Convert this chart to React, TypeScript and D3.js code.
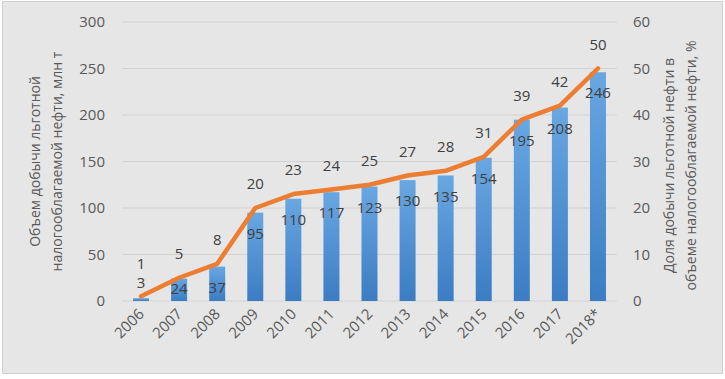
import React from "react";
import * as d3 from "d3";

const years = ["2006", "2007", "2008", "2009", "2010", "2011", "2012", "2013", "2014", "2015", "2016", "2017", "2018*"];
const volume = [3, 24, 37, 95, 110, 117, 123, 130, 135, 154, 195, 208, 246];
const share = [1, 5, 8, 20, 23, 24, 25, 27, 28, 31, 39, 42, 50];
const leftTicks = [0, 50, 100, 150, 200, 250, 300];
const rightTicks = [0, 10, 20, 30, 40, 50, 60];
const leftTitle = ["Объем добычи льготной", "налогооблагаемой нефти, млн т"];
const rightTitle = ["Доля добычи льготной нефти в", "объеме налогооблагаемой нефти, %"];

const W = 725, H = 379;
const m = { left: 122, right: 108, top: 22, bottom: 78 };
const FONT = "'Open Sans', sans-serif";

export default function App() {
  const x = d3.scaleBand().domain(years).range([m.left, W - m.right]).paddingInner(0.58).paddingOuter(0.29);
  const yL = d3.scaleLinear().domain([0, 300]).range([H - m.bottom, m.top]);
  const yR = d3.scaleLinear().domain([0, 60]).range([H - m.bottom, m.top]);
  const cx = (d: string) => (x(d) as number) + x.bandwidth() / 2;
  const line = d3.line<number>().x((_, i) => cx(years[i])).y((d) => yR(d)).curve(d3.curveLinear);
  const midY = (m.top + H - m.bottom) / 2;

  return (
    <svg width={W} height={H} style={{ position: "absolute", left: 0, top: 0 }} fontFamily={FONT}>
      <defs>
        <linearGradient id="barGrad" x1="0" y1="0" x2="0" y2="1">
          <stop offset="0%" stopColor="#69a7e2" />
          <stop offset="100%" stopColor="#3b7cc3" />
        </linearGradient>
      </defs>
      <rect x={0} y={0} width={W} height={H} fill="#ffffff" />
      <rect x={2.5} y={1.5} width={W - 5} height={H - 7} fill="#e6e6e6" stroke="#d0d0d0" />
      {leftTicks.map((t) => (
        <line key={"g" + t} x1={m.left} x2={W - m.right} y1={yL(t)} y2={yL(t)} stroke="#d2d2d2" strokeWidth={1} />
      ))}
      {leftTicks.map((t) => (
        <text key={"l" + t} x={105} y={yL(t)} dy="0.35em" textAnchor="end" fontSize={15} fill="#595959">{t}</text>
      ))}
      {rightTicks.map((t) => (
        <text key={"r" + t} x={633} y={yR(t)} dy="0.35em" textAnchor="start" fontSize={15} fill="#595959">{t}</text>
      ))}
      <text transform={`translate(40,${midY}) rotate(-90)`} textAnchor="middle" fontSize={14} fill="#595959">
        <tspan x={0} dy="0">{leftTitle[0]}</tspan>
        <tspan x={0} dy="1.55em">{leftTitle[1]}</tspan>
      </text>
      <text transform={`translate(674,${midY + 4}) rotate(-90)`} textAnchor="middle" fontSize={14} fill="#595959">
        <tspan x={0} dy="0">{rightTitle[0]}</tspan>
        <tspan x={0} dy="1.55em">{rightTitle[1]}</tspan>
      </text>
      {years.map((yr, i) => (
        <rect key={"b" + yr} x={x(yr)} y={yL(volume[i])} width={x.bandwidth()} height={yL(0) - yL(volume[i])} fill="url(#barGrad)" />
      ))}
      <path d={line(share) as string} fill="none" stroke="#ed7d31" strokeWidth={4.5} strokeLinejoin="round" strokeLinecap="round" />
      {years.map((yr, i) => {
        const top = yL(volume[i]);
        const ly = volume[i] < 10 ? top - 15 : volume[i] < 30 ? top + 10 : top + 21;
        return (
          <text key={"vl" + yr} x={cx(yr)} y={ly} dy="0.35em" textAnchor="middle" fontSize={15} fill="#404040">{volume[i]}</text>
        );
      })}
      {years.map((yr, i) => {
        const py = yR(share[i]);
        const ly = share[i] < 3 ? py - 33 : py - 24;
        return (
          <text key={"sl" + yr} x={cx(yr)} y={ly} dy="0.35em" textAnchor="middle" fontSize={15} fill="#404040">{share[i]}</text>
        );
      })}
      {years.map((yr) => (
        <text key={"x" + yr} transform={`translate(${cx(yr) + 4},${yL(0) + 14}) rotate(-45)`} textAnchor="end" fontSize={15} fill="#595959">{yr}</text>
      ))}
    </svg>
  );
}
